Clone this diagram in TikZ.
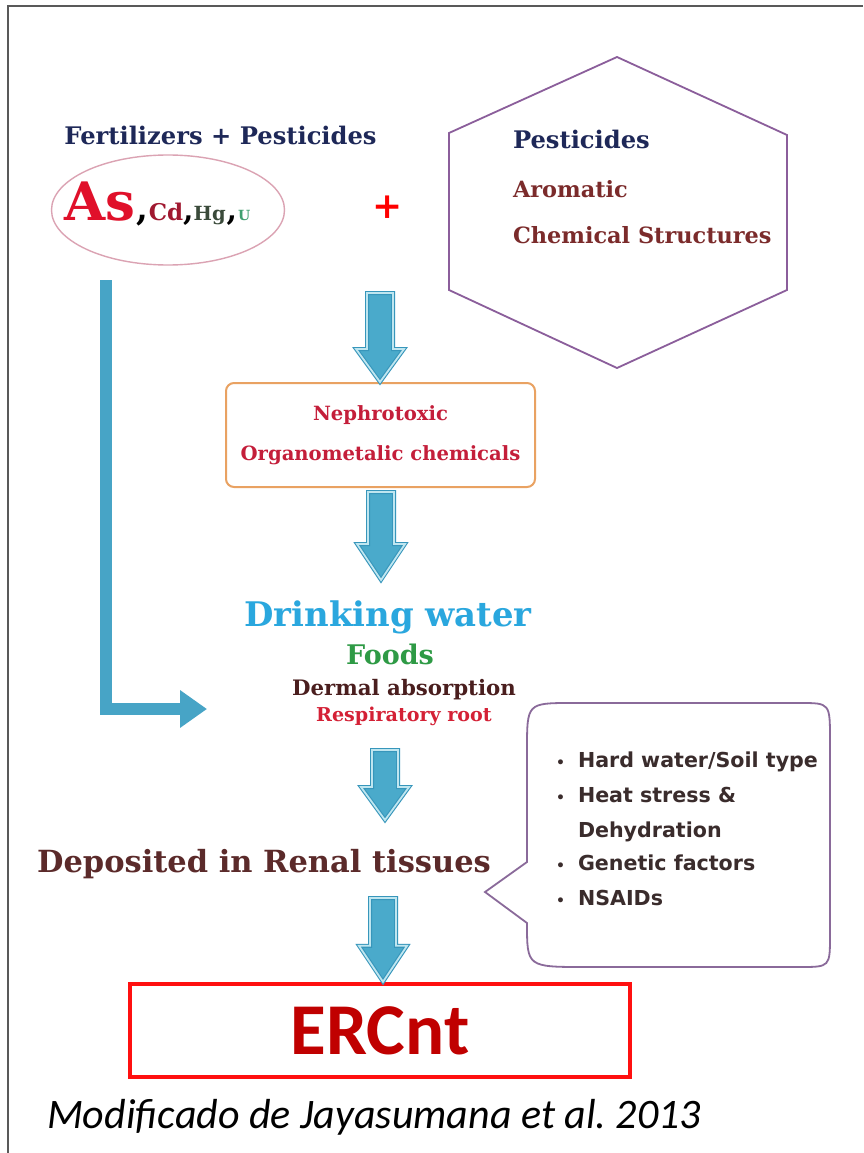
\documentclass[tikz,border=0pt]{standalone}
\usepackage{fontspec}
\setmainfont{DejaVu Serif}
\newfontfamily\hd{DejaVu Serif}
\newfontfamily\bulfont{DejaVu Sans}
\newfontfamily\calfont{Carlito}
\usetikzlibrary{calc,arrows.meta,shapes.geometric}
\newcommand\fsz[1]{\fontsize{#1}{#1}\selectfont}
\definecolor{navy}{HTML}{1E2858}
\definecolor{arombrown}{HTML}{7B2B2B}
\definecolor{crimson}{HTML}{C41E3A}
\definecolor{dwblue}{HTML}{2AA7DE}
\definecolor{foodgreen}{HTML}{2E9A45}
\definecolor{dermal}{HTML}{4A1E1E}
\definecolor{respred}{HTML}{D42035}
\definecolor{renal}{HTML}{5B2A2A}
\definecolor{bultext}{HTML}{3A2C2C}
\definecolor{hexpurple}{HTML}{8B5E9B}
\definecolor{callpurple}{HTML}{8A6A9A}
\definecolor{ellpink}{HTML}{DBA3B3}
\definecolor{nephorange}{HTML}{E9A262}
\definecolor{ercred}{HTML}{FF1010}
\definecolor{ercdark}{HTML}{C00000}
\definecolor{linkblue}{HTML}{47A4C6}
\definecolor{abfill}{HTML}{4AAACB}
\definecolor{abline}{HTML}{3796BB}
\definecolor{abdouble}{HTML}{BFE6F0}
\definecolor{asred}{HTML}{E0102A}
\definecolor{cdred}{HTML}{A01830}
\definecolor{hggray}{HTML}{3A4A3A}
\definecolor{ugreen}{HTML}{40A070}
\tikzset{
  txt/.style={inner sep=0pt, outer sep=0pt},
  frameline/.style={draw=black!65, line width=2.5pt},
  barrow/.style={fill=abfill, draw=abline, double=abdouble, double distance=1.8pt, line width=1.1pt, line join=miter},
  link/.style={draw=linkblue, line width=12pt, line join=miter, -{Triangle[length=27pt,width=36pt]}},
  hexline/.style={draw=hexpurple, line width=1.8pt, line join=miter},
  callline/.style={draw=callpurple, line width=1.8pt},
  metalell/.style={ellipse, draw=ellpink, line width=1.4pt, minimum width=233pt, minimum height=110pt, inner sep=0pt},
  nephbox/.style={draw=nephorange, line width=2pt, rounded corners=8pt, minimum width=309pt, minimum height=104pt, align=center, inner sep=0pt},
  ercbox/.style={draw=ercred, line width=4.5pt, minimum width=500pt, minimum height=93pt, inner sep=0pt}
}
\newcommand\blockarrow[3]{% #1 start, #2 tip, #3 head length
  \draw[barrow] let \p1=(#1), \p2=(#2) in
    (\x1-13pt,\y1) -- (\x1+13pt,\y1) -- (\x1+13pt,\y2+#3) -- (\x1+24pt,\y2+#3)
    -- (\x1,\y2) -- (\x1-24pt,\y2+#3) -- (\x1-13pt,\y2+#3) -- cycle;}
\begin{document}
\begin{tikzpicture}[x=1pt,y=-1pt]
\useasboundingbox (0,0) rectangle (863,1153);
\fill[white] (0,0) rectangle (863,1153);
\draw[frameline] (8,1153) -- (8,6) -- (863,6);

% top left
\node[txt, anchor=base, text=navy] (fert) at (220.5,144) {\hd\bfseries\fsz{24.2}Fertilizers + Pesticides};
\node[metalell] (metals) at (168,210) {};
\node[txt, anchor=base west] (metaltxt) at (64,220) {\hd\bfseries{\color{asred}\fsz{53}As}\kern2pt{\color{black}\fsz{34},}{\color{cdred}\fsz{23}Cd}{\color{black}\fsz{30},}{\color{hggray}\fsz{19.5}Hg}\kern1pt{\color{black}\fsz{30},}\kern1pt{\color{ugreen}\fsz{14}U}};
\node[txt, text=red] (plus) at (388,207) {\hd\bfseries\fsz{36}+};

% hexagon
\draw[hexline] (617,57) -- (787,135) -- (787,290) -- (617,368) -- (449,290) -- (449,133) -- cycle;
\coordinate (hex) at (617,212);
\node[txt, anchor=base west, text=navy] (hex1) at (513,148) {\hd\bfseries\fsz{24.2}Pesticides};
\node[txt, anchor=base west, text=arombrown] (hex2) at (513,197) {\hd\bfseries\fsz{22.4}Aromatic};
\node[txt, anchor=base west, text=arombrown] (hex3) at (513,243) {\hd\bfseries\fsz{22.4}Chemical Structures};

% nephrotoxic box
\node[nephbox, text=crimson, font=\hd\bfseries\fontsize{19.6}{40}\selectfont] (neph) at (380.5,435) {Nephrotoxic\\Organometalic chemicals};

% exposure routes
\node[txt, anchor=base, text=dwblue] (water) at (388,626) {\hd\bfseries\fsz{33.9}Drinking water};
\node[txt, anchor=base, text=foodgreen] (foods) at (390,664) {\hd\bfseries\fsz{27}Foods};
\node[txt, anchor=base, text=dermal] (dermal) at (404,695) {\hd\bfseries\fsz{21.3}Dermal absorption};
\node[txt, anchor=base, text=respred] (resp) at (404,721) {\hd\bfseries\fsz{19.1}Respiratory root};

% renal
\node[txt, anchor=base, text=renal] (renal) at (264,872) {\hd\bfseries\fsz{30.5}Deposited in Renal tissues};

% callout
\draw[callline] (527,862) -- (527,750) .. controls (527,703) .. (572,703) -- (800,703)
  .. controls (830,703) .. (830,740) -- (830,935) .. controls (830,967) .. (800,967)
  -- (585,967) .. controls (527,967) .. (527,923) -- (485,892) -- cycle;
\node[txt, anchor=base west, text=bultext] (f1) at (556,767) {\bulfont\bfseries\fsz{20.6}\makebox[22pt][l]{\fsz{14}•}Hard water/Soil type};
\node[txt, anchor=base west, text=bultext] (f2) at (556,802) {\bulfont\bfseries\fsz{20.6}\makebox[22pt][l]{\fsz{14}•}Heat stress \&};
\node[txt, anchor=base west, text=bultext] (f3) at (578,837) {\bulfont\bfseries\fsz{20.6}Dehydration};
\node[txt, anchor=base west, text=bultext] (f4) at (556,870) {\bulfont\bfseries\fsz{20.6}\makebox[22pt][l]{\fsz{14}•}Genetic factors};
\node[txt, anchor=base west, text=bultext] (f5) at (556,905) {\bulfont\bfseries\fsz{20.6}\makebox[22pt][l]{\fsz{14}•}NSAIDs};

% ERCnt
\node[ercbox] (ercnt) at (380,1030.5) {\calfont\bfseries\fsz{73}\color{ercdark}ERCnt};
\node[txt, anchor=base west] (credit) at (47,1128) {\calfont\itshape\fsz{42}Modificado de Jayasumana et al.\ 2013};

% connectors
\coordinate (a1s) at (380,293);
\coordinate (a2s) at (381,492);
\coordinate (a2e) at (381,580);
\coordinate (a3s) at (385,750);
\coordinate (a3e) at (385,820);
\coordinate (a4s) at (383,898);
\blockarrow{a1s}{neph.north}{33pt}
\blockarrow{a2s}{a2e}{36pt}
\blockarrow{a3s}{a3e}{33pt}
\blockarrow{a4s}{ercnt.north}{36pt}

\coordinate (c1) at (105.5,280);
\coordinate (c2) at (207,709);
\draw[link] (c1) |- (c2);
\end{tikzpicture}
\end{document}
